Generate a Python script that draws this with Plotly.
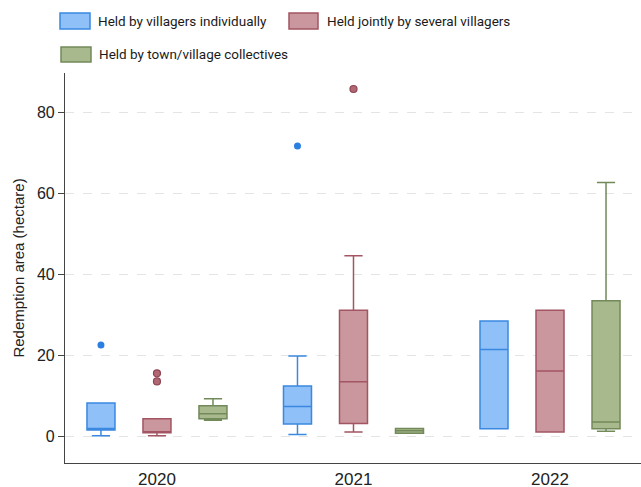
import plotly.graph_objects as go

years = ["2020", "2021", "2022"]
series = ["Held by villagers individually", "Held jointly by several villagers", "Held by town/village collectives"]

# box statistics per series, per year (2020, 2021, 2022)
blue_low = [0.2, 0.5, 1.9]
blue_q1 = [1.6, 3.1, 1.9]
blue_med = [2.0, 7.4, 21.5]
blue_q3 = [8.3, 12.5, 28.5]
blue_up = [8.3, 19.9, 28.5]

red_low = [0.2, 1.1, 1.1]
red_q1 = [0.9, 3.2, 1.1]
red_med = [1.2, 13.5, 16.2]
red_q3 = [4.4, 31.2, 31.2]
red_up = [4.4, 44.6, 31.2]

green_low = [4.0, 0.8, 1.3]
green_q1 = [4.4, 0.8, 1.9]
green_med = [5.6, 1.4, 3.6]
green_q3 = [7.6, 2.0, 33.5]
green_up = [9.3, 2.0, 62.7]

# outliers: (year index, value)
blue_out_year = [0, 1]
blue_out_val = [22.6, 71.7]
red_out_year = [0, 0, 1]
red_out_val = [15.6, 13.6, 85.8]

fills = ["#8fc0f8", "#c9979d", "#a9b98e"]
lines = ["#3a88e0", "#a35563", "#72895a"]
offsets = [-0.285, 0.0, 0.285]
BOXW = 0.1425

stats = [
    (blue_low, blue_q1, blue_med, blue_q3, blue_up),
    (red_low, red_q1, red_med, red_q3, red_up),
    (green_low, green_q1, green_med, green_q3, green_up),
]

fig = go.Figure()
for i, (lo, q1, md, q3, up) in enumerate(stats):
    fig.add_trace(go.Box(
        x=[k + offsets[i] for k in range(len(years))],
        lowerfence=lo, q1=q1, median=md, q3=q3, upperfence=up,
        width=BOXW, whiskerwidth=0.65,
        fillcolor=fills[i], line=dict(color=lines[i], width=1.5),
        name=series[i], showlegend=False, hoverinfo="skip",
    ))

fig.add_trace(go.Scatter(
    x=[k + offsets[0] for k in blue_out_year], y=blue_out_val, mode="markers",
    marker=dict(color="#2b7fe0", size=7), showlegend=False, hoverinfo="skip"))
fig.add_trace(go.Scatter(
    x=[k + offsets[1] for k in red_out_year], y=red_out_val, mode="markers",
    marker=dict(color="#b06872", size=7, line=dict(color="#8e4452", width=1.2)),
    showlegend=False, hoverinfo="skip"))

W, H = 641, 487
PL, PR, PT, PB = 65, 641, 73, 463


def px(x):
    return (x - PL) / (PR - PL)


def py(y):
    return (PB - y) / (PB - PT)


legend_items = [
    (0, 60, 90, 13, 29, 96),
    (1, 289, 318, 13, 29, 325),
    (2, 61, 91, 47, 62, 97),
]
shapes = []
annotations = []
for i, x0, x1, y0, y1, tx in legend_items:
    shapes.append(dict(type="rect", xref="paper", yref="paper",
                       x0=px(x0), x1=px(x1), y0=py(y1), y1=py(y0),
                       fillcolor=fills[i], line=dict(color=lines[i], width=1.5)))
    annotations.append(dict(xref="paper", yref="paper", x=px(tx), y=py((y0 + y1) / 2),
                            xanchor="left", yanchor="middle", showarrow=False,
                            text=series[i], font=dict(size=13.5, color="#1a1a1a",
                                                      family="Roboto, Liberation Sans, Arial")))

fig.update_layout(
    width=W, height=H,
    margin=dict(l=PL, r=W - PR, t=PT, b=H - PB, autoexpand=False),
    paper_bgcolor="white", plot_bgcolor="white",
    font=dict(family="Liberation Sans, Arial, sans-serif", color="#222222"),
    shapes=shapes, annotations=annotations,
    xaxis=dict(range=[-0.468, 2.463], tickvals=list(range(len(years))), ticktext=years,
               showline=True, linecolor="#444444", linewidth=1.2, showgrid=False, zeroline=False,
               ticks="", ticklen=0,
               tickfont=dict(size=17, color="#222222")),
    yaxis=dict(range=[-6.54, 89.75], tickvals=[0, 20, 40, 60, 80],
               showline=True, linecolor="#444444", linewidth=1.2,
               ticks="outside", ticklen=6, tickcolor="#444444",
               showgrid=True, gridcolor="#e4e4e4", griddash="dash", zeroline=False,
               tickfont=dict(size=16, color="#222222"),
               title=dict(text="Redemption area (hectare)", font=dict(size=15, color="#222222"), standoff=8)),
)

fig.write_html("out.html")
